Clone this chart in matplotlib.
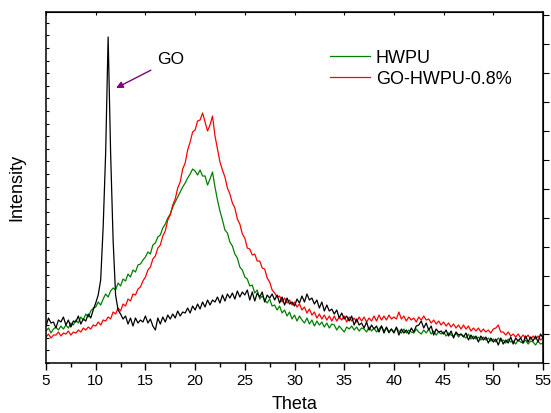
import numpy as np
import matplotlib
matplotlib.use("Agg")
import matplotlib.pyplot as plt
from matplotlib.ticker import MultipleLocator

plt.rcParams['font.family'] = ['Liberation Sans', 'DejaVu Sans']

# 2-theta grid, 0.25 degree step from 5 to 55
theta = np.arange(5.0, 55.001, 0.25)

# Diffracted intensity (a.u.), one row per degree (4 samples each)
go = [
    37, 45, 40, 41, 35, 43, 41, 46, 38, 43, 36, 42, 41, 47, 39, 44,
    42, 49, 45, 53, 60, 68, 83, 136, 210, 326, 210, 123, 68, 53, 49, 44,
    47, 39, 45, 37, 45, 40, 43, 41, 47, 40, 44, 37, 33, 45, 39, 46,
    41, 48, 44, 49, 45, 52, 47, 51, 50, 55, 50, 57, 53, 59, 54, 61,
    56, 63, 58, 63, 61, 66, 60, 68, 62, 69, 65, 70, 64, 72, 66, 71,
    68, 73, 63, 71, 62, 70, 66, 71, 61, 68, 65, 69, 63, 68, 60, 66,
    58, 65, 59, 61, 57, 64, 60, 67, 61, 69, 63, 65, 59, 63, 55, 61,
    52, 58, 52, 54, 49, 53, 45, 50, 44, 47, 42, 47, 38, 44, 38, 40,
    35, 41, 33, 38, 34, 37, 31, 37, 30, 36, 31, 34, 30, 36, 28, 34,
    30, 33, 29, 35, 31, 37, 38, 42, 35, 40, 33, 37, 28, 34, 31, 32,
    29, 33, 27, 32, 25, 31, 28, 29, 26, 30, 23, 28, 24, 27, 21, 27,
    23, 26, 20, 25, 21, 24, 18, 25, 19, 23, 20, 26, 19, 25, 22, 25,
    20, 27, 21, 26, 22, 27, 21, 29, 25,
]

hwpu = [
    32, 35, 30, 34, 36, 33, 37, 34, 38, 35, 40, 38, 43, 40, 46, 43,
    49, 46, 52, 55, 56, 61, 58, 64, 69, 66, 72, 75, 73, 80, 77, 84,
    82, 89, 86, 93, 91, 98, 99, 103, 106, 111, 109, 118, 120, 126, 128, 135,
    139, 145, 149, 156, 161, 166, 171, 176, 180, 185, 189, 194, 192, 188, 193, 187,
    187, 178, 184, 191, 176, 163, 152, 143, 133, 130, 121, 117, 109, 105, 96, 93,
    86, 84, 77, 78, 70, 73, 64, 67, 63, 60, 64, 57, 58, 53, 57, 50,
    53, 47, 51, 44, 48, 42, 47, 43, 40, 45, 39, 43, 37, 42, 38, 41,
    36, 40, 35, 39, 38, 33, 37, 34, 31, 36, 34, 37, 33, 36, 32, 35,
    34, 31, 36, 32, 35, 31, 34, 37, 32, 35, 30, 34, 31, 35, 32, 30,
    34, 30, 33, 31, 30, 34, 31, 29, 33, 30, 34, 29, 32, 28, 31, 29,
    31, 27, 30, 28, 27, 30, 26, 29, 27, 25, 29, 24, 27, 24, 26, 23,
    26, 23, 25, 22, 24, 21, 25, 22, 23, 20, 24, 21, 22, 19, 23, 21,
    20, 23, 19, 22, 21, 18, 22, 19, 20,
]

go_hwpu = [
    26, 29, 25, 28, 28, 31, 27, 30, 29, 32, 28, 31, 30, 33, 31, 35,
    33, 36, 34, 38, 37, 41, 38, 43, 42, 46, 44, 51, 49, 55, 52, 59,
    57, 64, 62, 69, 68, 74, 76, 82, 86, 93, 96, 104, 107, 115, 118, 127,
    132, 143, 148, 158, 164, 175, 181, 194, 200, 213, 221, 231, 233, 242, 243, 250,
    241, 232, 238, 247, 227, 214, 201, 193, 186, 175, 169, 160, 155, 144, 139, 129,
    125, 115, 114, 108, 109, 102, 102, 95, 94, 85, 81, 73, 70, 66, 67, 61,
    65, 60, 63, 58, 61, 56, 59, 53, 56, 50, 54, 48, 51, 45, 49, 44,
    48, 43, 47, 42, 47, 42, 46, 43, 47, 41, 46, 42, 45, 41, 46, 42,
    46, 41, 45, 42, 47, 42, 48, 43, 47, 43, 48, 44, 46, 44, 51, 44,
    47, 42, 46, 43, 45, 41, 46, 43, 47, 43, 44, 40, 43, 39, 42, 38,
    41, 37, 40, 36, 39, 35, 38, 34, 38, 34, 37, 32, 35, 32, 35, 31,
    34, 31, 33, 30, 34, 35, 38, 31, 31, 28, 31, 27, 29, 26, 29, 25,
    28, 25, 28, 24, 27, 24, 27, 23, 25,
]

labels = ["HWPU", "GO-HWPU-0.8%"]

fig = plt.figure(figsize=(5.51, 4.13), dpi=100)
ax = fig.add_axes([0.0835, 0.121, 0.902, 0.850])

l_hwpu, = ax.plot(theta, hwpu, color="#008000", lw=0.9)
l_mix, = ax.plot(theta, go_hwpu, color="#ff0000", lw=0.9)
ax.plot(theta, go, color="#000000", lw=0.9)

ax.set_xlim(5, 55)
ax.set_ylim(0, 351)

for s in ax.spines.values():
    s.set_linewidth(1.1)

ax.xaxis.set_major_locator(MultipleLocator(5))
ax.xaxis.set_minor_locator(MultipleLocator(2.5))
ax.tick_params(axis="x", which="major", direction="out", length=5, width=1,
               labelsize=11, pad=3)
ax.tick_params(axis="x", which="minor", direction="out", length=3, width=1)
ax.yaxis.set_major_locator(MultipleLocator(12.6))
ax.tick_params(axis="y", which="major", direction="in", length=2, width=0.8,
               labelleft=False)
ax.yaxis.set_minor_locator(plt.NullLocator())

top = ax.secondary_xaxis("top")
top.xaxis.set_major_locator(MultipleLocator(5))
top.tick_params(direction="in", length=2, width=0.8, labeltop=False)
right = ax.secondary_yaxis("right")
right.yaxis.set_major_locator(MultipleLocator(29))
right.tick_params(direction="out", length=4, width=0.8, labelright=False)

ax.set_xlabel("Theta", fontsize=13, labelpad=6)
ax.set_ylabel("Intensity", fontsize=13, labelpad=15)

ax.legend([l_hwpu, l_mix], labels, frameon=False, fontsize=13,
          loc="upper left", bbox_to_anchor=(0.599, 0.880),
          bbox_transform=fig.transFigure, borderpad=0, borderaxespad=0,
          handlelength=2.2, handletextpad=0.33, labelspacing=0.22)

ax.annotate("GO", xy=(12.05, 275), xytext=(16.2, 303), fontsize=12.5,
            ha="left", va="center",
            arrowprops=dict(arrowstyle="-|>", color="#800080", lw=1,
                            mutation_scale=10, shrinkA=3, shrinkB=0))

fig.savefig("out.png", dpi=100)
